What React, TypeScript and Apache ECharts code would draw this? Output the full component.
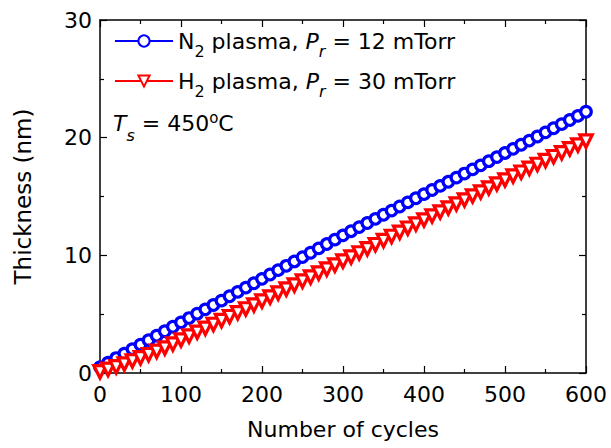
import React, { useEffect, useRef } from "react";
import * as echarts from "echarts";

const cycles = [
  0, 10, 20, 30, 40, 50, 60, 70, 80, 90, 100, 110, 120, 130, 140, 150, 160, 170, 180, 190, 200,
  210, 220, 230, 240, 250, 260, 270, 280, 290, 300, 310, 320, 330, 340, 350, 360, 370, 380, 390, 400,
  410, 420, 430, 440, 450, 460, 470, 480, 490, 500, 510, 520, 530, 540, 550, 560, 570, 580, 590, 600,
];

const n2Thickness = [
  0.5, 0.88, 1.27, 1.65, 2.03, 2.41, 2.79, 3.17, 3.55, 3.93, 4.3,
  4.67, 5.04, 5.41, 5.78, 6.15, 6.52, 6.89, 7.26, 7.63, 8.0,
  8.37, 8.74, 9.11, 9.48, 9.85, 10.22, 10.59, 10.96, 11.33, 11.7,
  12.05, 12.4, 12.75, 13.1, 13.45, 13.8, 14.15, 14.5, 14.85, 15.2,
  15.55, 15.9, 16.25, 16.6, 16.95, 17.3, 17.65, 18.0, 18.35, 18.7,
  19.05, 19.4, 19.75, 20.1, 20.45, 20.8, 21.15, 21.5, 21.85, 22.2,
];

const h2Thickness = [
  0.1, 0.3, 0.52, 0.76, 1.02, 1.28, 1.55, 1.83, 2.12, 2.45, 2.8,
  3.13, 3.46, 3.79, 4.12, 4.45, 4.78, 5.11, 5.44, 5.77, 6.1,
  6.44, 6.78, 7.12, 7.46, 7.8, 8.14, 8.48, 8.82, 9.16, 9.5,
  9.85, 10.2, 10.55, 10.9, 11.25, 11.6, 11.95, 12.3, 12.65, 13.0,
  13.34, 13.68, 14.02, 14.36, 14.7, 15.04, 15.38, 15.72, 16.06, 16.4,
  16.73, 17.06, 17.39, 17.72, 18.05, 18.38, 18.71, 19.04, 19.37, 19.7,
];

const FONT = "'DejaVu Sans', sans-serif";
const BLUE = "#0000ff";
const RED = "#ff0000";

export default function App() {
  const ref = useRef<HTMLDivElement>(null);

  useEffect(() => {
    if (!ref.current) return;
    const chart = echarts.init(ref.current, null, { renderer: "svg" });

    const axisCommon = {
      type: "value" as const,
      axisLine: { show: true, onZero: false, lineStyle: { color: "#000", width: 1.5 } },
      axisTick: { show: true, inside: true, length: 7, lineStyle: { color: "#000", width: 1.2 } },
      minorTick: { show: true, splitNumber: 2, length: 4, lineStyle: { color: "#000", width: 1.2 } },
      splitLine: { show: false },
    };

    const legendRich = {
      t: { fontSize: 22, fontFamily: FONT, color: "#000", verticalAlign: "middle" as const, lineHeight: 26 },
      it: { fontSize: 22, fontFamily: FONT, fontStyle: "italic" as const, color: "#000", verticalAlign: "middle" as const, lineHeight: 26 },
      sub: { fontSize: 16, fontFamily: FONT, color: "#000", verticalAlign: "middle" as const, lineHeight: 16, padding: [20, 0, 0, 0] },
      isub: { fontSize: 16, fontFamily: FONT, fontStyle: "italic" as const, color: "#000", verticalAlign: "middle" as const, lineHeight: 16, padding: [20, 0, 0, 0] },
    };

    chart.setOption({
      animation: false,
      backgroundColor: "#fff",
      grid: { left: 100, right: 25, top: 20, bottom: 75, containLabel: false },
      xAxis: [
        {
          ...axisCommon,
          min: 0,
          max: 600,
          interval: 100,
          position: "bottom",
          name: "Number of cycles",
          nameLocation: "middle",
          nameGap: 45,
          nameTextStyle: { fontSize: 22, fontFamily: FONT, color: "#000" },
          axisLabel: { fontSize: 22, fontFamily: FONT, color: "#000", margin: 10 },
        },
        {
          ...axisCommon,
          min: 0,
          max: 600,
          interval: 100,
          position: "top",
          axisLabel: { show: false },
        },
      ],
      yAxis: [
        {
          ...axisCommon,
          min: 0,
          max: 30,
          interval: 10,
          position: "left",
          name: "Thickness (nm)",
          nameLocation: "middle",
          nameGap: 66,
          nameTextStyle: { fontSize: 23, fontFamily: FONT, color: "#000" },
          axisLabel: { fontSize: 22, fontFamily: FONT, color: "#000", margin: 8 },
        },
        {
          ...axisCommon,
          min: 0,
          max: 30,
          interval: 10,
          position: "right",
          axisLabel: { show: false },
        },
      ],
      legend: {
        orient: "vertical",
        left: 109,
        top: 18,
        itemWidth: 58,
        itemHeight: 14,
        itemGap: 4,
        data: ["N2", "H2"],
        formatter: (name: string) =>
          name === "N2"
            ? "{t|N}{sub|2}{t| plasma, }{it|P}{isub|r}{t| = 12 mTorr}"
            : "{t|H}{sub|2}{t| plasma, }{it|P}{isub|r}{t| = 30 mTorr}",
        textStyle: { rich: legendRich, padding: [0, 0, 0, 0] },
      },
      graphic: [
        {
          type: "text",
          left: 113,
          top: 103,
          style: {
            text: "{it|T}{isub|s}{t| = 450}{sup|o}{t|C}",
            rich: {
              t: { fontSize: 22, fontFamily: FONT, fill: "#000", verticalAlign: "middle", lineHeight: 26 },
              it: { fontSize: 22, fontFamily: FONT, fontStyle: "italic", fill: "#000", verticalAlign: "middle", lineHeight: 26 },
              isub: { fontSize: 16, fontFamily: FONT, fontStyle: "italic", fill: "#000", verticalAlign: "middle", lineHeight: 16, padding: [24, 0, 0, 0] },
              sup: { fontSize: 15, fontFamily: FONT, fill: "#000", verticalAlign: "middle", lineHeight: 15, padding: [0, 0, 10, 0] },
            },
          },
        },
      ],
      series: [
        {
          name: "N2",
          type: "line",
          data: cycles.map((c, i) => [c, n2Thickness[i]]),
          symbol: "circle",
          symbolSize: 10.5,
          showAllSymbol: true,
          lineStyle: { color: BLUE, width: 2 },
          itemStyle: { color: "#fff", borderColor: BLUE, borderWidth: 3.2 },
          z: 2,
        },
        {
          name: "H2",
          type: "line",
          data: cycles.map((c, i) => [c, h2Thickness[i]]),
          symbol: "triangle",
          symbolRotate: 180,
          symbolSize: 12.5,
          showAllSymbol: true,
          lineStyle: { color: RED, width: 2 },
          itemStyle: { color: "#fff", borderColor: RED, borderWidth: 3.2 },
          z: 3,
        },
      ],
    });

    return () => chart.dispose();
  }, []);

  return (
    <div
      ref={ref}
      style={{ position: "fixed", left: 0, top: 0, width: 611, height: 448, background: "#fff" }}
    />
  );
}
